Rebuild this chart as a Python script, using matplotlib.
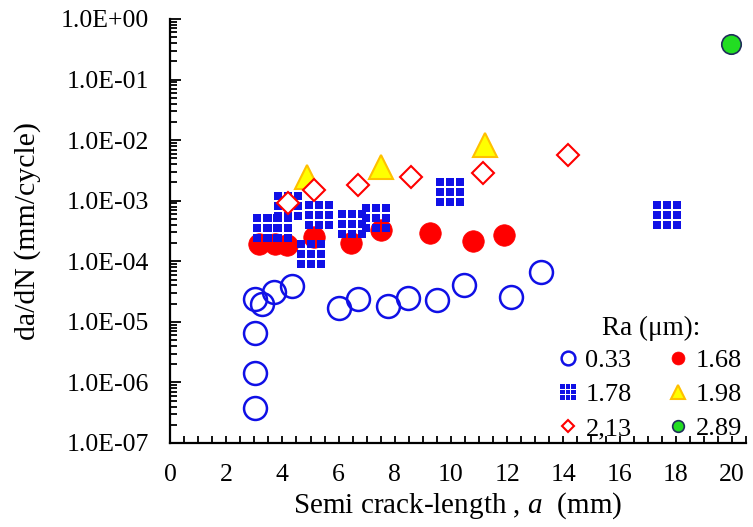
import numpy as np
import matplotlib
matplotlib.use("Agg")
import matplotlib.pyplot as plt
from matplotlib.path import Path
from matplotlib.ticker import FixedLocator, LogLocator, FuncFormatter, NullFormatter

plt.rcParams['font.family'] = ['Liberation Serif', 'DejaVu Serif']
plt.rcParams['mathtext.fontset'] = 'custom'
plt.rcParams['mathtext.it'] = 'Liberation Serif:italic'
plt.rcParams['mathtext.rm'] = 'Liberation Serif'

# Ra = 0.33 um
x033 = [3.02, 3.02, 3.02, 3.02, 3.27, 3.70, 4.34, 6.01, 6.69, 7.76, 8.47, 9.50, 10.46, 12.13, 13.20]
y033 = [3.8e-7, 1.44e-6, 6.6e-6, 2.4e-5, 2.0e-5, 3.1e-5, 3.9e-5, 1.7e-5, 2.4e-5, 1.8e-5, 2.5e-5, 2.3e-5, 4.1e-5, 2.6e-5, 6.7e-5]
# Ra = 1.68 um
x168 = [3.17, 3.74, 4.16, 5.12, 6.44, 7.51, 9.25, 10.78, 11.89]
y168 = [1.95e-4, 1.95e-4, 1.87e-4, 2.5e-4, 2.0e-4, 3.3e-4, 2.9e-4, 2.2e-4, 2.7e-4]
# Ra = 1.78 um
x178 = [3.45, 3.84, 4.20, 5.30, 5.02, 6.48, 7.33, 9.96, 17.69]
y178 = [3.6e-4, 3.5e-4, 8.2e-4, 5.9e-4, 1.3e-4, 4.2e-4, 5.2e-4, 1.4e-3, 5.9e-4]
# Ra = 1.98 um
x198 = [4.87, 7.50, 11.20]
y198 = [2.5e-3, 3.6e-3, 8.3e-3]
# Ra = 2.13 um
x213 = [4.20, 5.12, 6.69, 8.58, 11.14, 14.16]
y213 = [9.2e-4, 1.5e-3, 1.8e-3, 2.5e-3, 2.9e-3, 5.7e-3]
# Ra = 2.89 um
x289 = [19.96]
y289 = [0.39]

# grid square marker (3x3 cells)
verts = []
codes = []
gap = 0.06
cell = (1.0 - 3 * gap) / 3
for i in range(3):
    for j in range(3):
        x0 = -0.5 + gap / 2 + i * (cell + gap)
        y0 = -0.5 + gap / 2 + j * (cell + gap)
        verts += [(x0, y0), (x0 + cell, y0), (x0 + cell, y0 + cell), (x0, y0 + cell), (x0, y0)]
        codes += [Path.MOVETO, Path.LINETO, Path.LINETO, Path.LINETO, Path.CLOSEPOLY]
gridsq = Path(verts, codes)

fig = plt.figure(figsize=(7.53, 5.27), dpi=100)
ax = fig.add_axes([0.2258, 0.1594, 0.7649, 0.8046])

blue = '#1010E6'
red = '#FF0000'
ax.plot(x033, y033, 'o', ms=16.5, mfc='none', mec=blue, mew=1.8, label='0.33', ls='none')
ax.plot(x168, y168, 'o', ms=15.5, mfc=red, mec=red, mew=0.5, label='1.68', ls='none')
ax.plot(x178, y178, marker=gridsq, ms=19.5, mfc=blue, mec='none', mew=0, label='1.78', ls='none')
ax.plot(x198, y198, '^', ms=17, mfc='#FFFF00', mec='#FFC000', mew=1.5, label='1.98', ls='none')
ax.plot(x213, y213, 'D', ms=11, mfc='white', mec=red, mew=1.5, label='2,13', ls='none')
ax.plot(x289, y289, 'o', ms=14, mfc='#22DD22', mec='#1F2D5A', mew=1.2, label='2.89', ls='none')

ax.set_yscale('log')
ax.set_xlim(0, 20.5)
ax.set_ylim(1e-7, 1.0)

ax.xaxis.set_major_locator(FixedLocator(np.arange(0, 21, 2)))
ax.xaxis.set_minor_locator(FixedLocator(np.arange(0, 20.6, 0.5)))
ax.yaxis.set_major_locator(LogLocator(base=10, numticks=20))
ax.yaxis.set_minor_locator(LogLocator(base=10, subs=np.arange(2, 10), numticks=20))
ax.yaxis.set_minor_formatter(NullFormatter())
ax.yaxis.set_major_formatter(FuncFormatter(lambda v, p: '%.1E' % v))

for s in ['top', 'right']:
    ax.spines[s].set_visible(False)
for s in ['left', 'bottom']:
    ax.spines[s].set_linewidth(1.6)

ax.tick_params(which='both', direction='in', labelsize=18.5, width=1.3)
ax.tick_params(axis='y', which='major', length=8, pad=15)
ax.tick_params(axis='y', which='minor', length=5)
ax.tick_params(axis='x', which='both', length=5, pad=15)

ax.set_xlabel('Semi crack-length , $\\mathit{a}$  (mm)', fontsize=21, labelpad=3)
ax.set_ylabel('da/dN (mm/cycle)', fontsize=21.5, labelpad=14)

handles, labels = ax.get_legend_handles_labels()
order = [0, 2, 4, 1, 3, 5]
leg = ax.legend([handles[i] for i in order], [labels[i] for i in order], ncol=2,
                title='Ra (\u03bcm):', title_fontsize=19.5, fontsize=19, frameon=False,
                markerscale=0.6, handlelength=0.6, handletextpad=0.35, columnspacing=1.47,
                labelspacing=0.4, borderpad=0, loc='lower right',
                bbox_to_anchor=(1.016, -0.025))
leg._legend_box.sep = 6

fig.savefig('out.png', dpi=100)
